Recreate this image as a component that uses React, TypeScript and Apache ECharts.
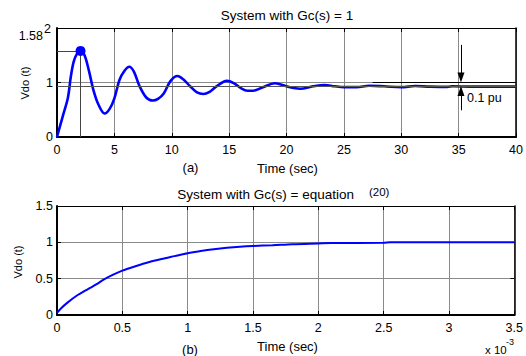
import React, { useEffect, useRef } from "react";
import * as echarts from "echarts";

// (a) System with Gc(s) = 1
const topTime = [0, 0.5, 0.95, 1.2, 1.45, 1.75, 2.05, 2.4, 2.8, 3.15, 3.6, 4.15, 4.6, 5.0, 5.45, 5.9, 6.3, 6.7, 7.2, 7.8, 8.35, 8.8, 9.3, 9.9, 10.5, 11.0, 11.6, 12.2, 12.75, 13.3, 13.9, 14.8, 15.4, 16.0, 16.6, 17.1, 17.9, 19.0, 20.0, 20.6, 21.2, 22.3, 23.3, 24.2, 25.0, 26.1, 27.2, 28.5, 30.0, 31.2, 32.5, 34.0, 34.5, 36.0, 40.0];
const topVdo = [0, 0.38, 0.72, 1.1, 1.38, 1.53, 1.58, 1.5, 1.2, 0.88, 0.6, 0.43, 0.52, 0.71, 1.05, 1.22, 1.29, 1.2, 0.93, 0.72, 0.67, 0.7, 0.8, 1.03, 1.12, 1.06, 0.93, 0.82, 0.79, 0.83, 0.93, 1.03, 0.99, 0.9, 0.85, 0.85, 0.91, 0.985, 0.93, 0.9, 0.885, 0.93, 0.955, 0.93, 0.915, 0.915, 0.94, 0.93, 0.915, 0.935, 0.925, 0.92, 0.93, 0.925, 0.925];
const topYTickMax = 2;
const peakPoint = [2.05, 1.58];
const peakLabel = "1.58";
const steadyValue = 0.935;
const referenceValue = 1;
const bandLineStart = 27.5;
const arrowTime = 35.2;
const downArrow = [1.69, 1.09];
const upArrow = [0.49, 0.845];
const bandLabelPoint = [35.2, 0.71];

// (b) System with Gc(s) = equation (20), time in x 10^-3 s
const bottomTime = [0, 0.03, 0.08, 0.15, 0.24, 0.3, 0.36, 0.43, 0.5, 0.6, 0.7, 0.8, 0.9, 1.0, 1.1, 1.2, 1.3, 1.4, 1.5, 1.65, 1.8, 2.0, 2.1, 2.5, 2.55, 3.0, 3.5];
const bottomVdo = [0.03, 0.09, 0.17, 0.265, 0.36, 0.42, 0.49, 0.555, 0.61, 0.67, 0.725, 0.77, 0.81, 0.85, 0.88, 0.905, 0.925, 0.94, 0.95, 0.96, 0.975, 0.985, 0.99, 0.995, 1.0, 1.0, 1.0];

const FONT = "'Liberation Sans', Arial, sans-serif";

export default function App() {
  const ref = useRef<HTMLDivElement>(null);
  useEffect(() => {
    if (!ref.current) return;
    const chart = echarts.init(ref.current, null, { renderer: "svg" });
    const grid = "#8a8a8a";
    const mkX = (gi: number, max: number, interval: number, pos: string, main: boolean) => ({
      type: "value",
      gridIndex: gi,
      min: 0,
      max,
      interval,
      position: pos,
      axisLine: { show: true, onZero: false, lineStyle: { color: "#000", width: main ? 2 : 1 } },
      axisTick: { show: true, inside: true, length: 4, lineStyle: { color: "#000", width: 1 } },
      axisLabel: main
        ? { show: true, color: "#000", fontSize: 12.5, fontFamily: FONT, margin: 6, showMaxLabel: true, showMinLabel: true, hideOverlap: false }
        : { show: false },
      splitLine: { show: main, lineStyle: { color: grid, width: 1 } },
    });
    const mkY = (gi: number, max: number, interval: number, pos: string, main: boolean, fmt?: (v: number) => string) => ({
      type: "value",
      gridIndex: gi,
      min: 0,
      max,
      interval,
      position: pos,
      axisLine: { show: true, onZero: false, lineStyle: { color: "#000", width: main ? 2 : 1.5 } },
      axisTick: { show: true, inside: true, length: 4, lineStyle: { color: "#000", width: 1 } },
      axisLabel: main
        ? { show: true, color: "#000", fontSize: 12.5, fontFamily: FONT, margin: 4, showMaxLabel: true, showMinLabel: true, hideOverlap: false, ...(fmt ? { formatter: fmt } : {}) }
        : { show: false },
      splitLine: { show: main, lineStyle: { color: grid, width: 1 } },
    });
    const txt = (x: number, y: number, text: string, size: number, extra: any = {}) => ({
      type: "text",
      x,
      y,
      silent: true,
      style: {
        text,
        fill: "#000",
        fontSize: size,
        fontFamily: FONT,
        textAlign: "center",
        textVerticalAlign: "middle",
        ...extra,
      },
    });
    const graphics: any[] = [
      txt(287, 15, "System with Gc(s) = 1", 13.5),
      txt(43, 35.5, peakLabel, 12.5, { textAlign: "right" }),
      txt(287.5, 168, "Time (sec)", 13),
      txt(190.5, 167, "(a)", 13),
      { ...txt(25, 83, "Vdo (t)", 11), rotation: Math.PI / 2 },
      txt(354, 194, "System with Gc(s) = equation", 13.5, { textAlign: "right" }),
      txt(369, 192, "(20)", 11.5, { textAlign: "left" }),
      txt(287.5, 346, "Time (sec)", 13),
      txt(190, 349, "(b)", 13),
      { ...txt(18, 262, "Vdo (t)", 11), rotation: Math.PI / 2 },
      txt(485, 350, "x 10", 11.5, { textAlign: "left" }),
      txt(506, 342, "-3", 9, { textAlign: "left" }),
    ];
    chart.setOption({
      animation: false,
      backgroundColor: "#fff",
      grid: [
        { left: 57, top: 28, width: 463, height: 109 },
        { left: 57, top: 206, width: 463, height: 109 },
      ],
      xAxis: [
        mkX(0, 40, 5, "bottom", true),
        mkX(0, 40, 5, "top", false),
        mkX(1, 3.5, 0.5, "bottom", true),
        mkX(1, 3.5, 0.5, "top", false),
      ],
      yAxis: [
        mkY(0, topYTickMax, 1, "left", true, (v: number) => (v === topYTickMax ? "" : String(v))),
        mkY(0, topYTickMax, 1, "right", false),
        mkY(1, 1.5, 0.5, "left", true),
        mkY(1, 1.5, 0.5, "right", false),
      ],
      series: [
        {
          type: "line",
          xAxisIndex: 0,
          yAxisIndex: 0,
          data: [],
          z: 2,
          markLine: {
            silent: true,
            animation: false,
            symbol: ["none", "none"],
            label: { show: false },
            lineStyle: { type: "solid", color: "#555", width: 1 },
            data: [
              [{ coord: [0, steadyValue], lineStyle: { color: "#555", width: 1, type: "solid" } }, { coord: [40, steadyValue] }],
              [{ coord: [bandLineStart, referenceValue], lineStyle: { color: "#000", width: 1.2, type: "solid" } }, { coord: [40, referenceValue] }],
              [{ coord: [0, peakPoint[1]], lineStyle: { color: "#444", width: 1, type: "solid" } }, { coord: [peakPoint[0], peakPoint[1]] }],
              [{ coord: [peakPoint[0], 0], lineStyle: { color: "#444", width: 1, type: "solid" } }, { coord: [peakPoint[0], peakPoint[1]] }],
              [
                { coord: [arrowTime, downArrow[0]], symbol: "none", lineStyle: { color: "#000", width: 1, type: "solid" } },
                { coord: [arrowTime, downArrow[1]], symbol: "triangle", symbolSize: [7, 10], itemStyle: { color: "#000" } },
              ],
              [
                { coord: [arrowTime, upArrow[0]], symbol: "none", lineStyle: { color: "#000", width: 1, type: "solid" } },
                { coord: [arrowTime, upArrow[1]], symbol: "triangle", symbolSize: [7, 10], itemStyle: { color: "#000" } },
              ],
            ],
          },
          markPoint: {
            silent: true,
            animation: false,
            symbol: "circle",
            symbolSize: 2,
            itemStyle: { color: "rgba(0,0,0,0)" },
            data: [
              {
                coord: bandLabelPoint,
                label: { show: true, position: "right", distance: 5, formatter: "0.1 pu", color: "#000", fontSize: 12.5, fontFamily: FONT },
              },
            ],
          },
        },
        {
          type: "line",
          xAxisIndex: 0,
          yAxisIndex: 0,
          data: topTime.map((t, i) => [t, topVdo[i]]),
          showSymbol: false,
          smooth: 0.35,
          z: 3,
          lineStyle: { color: "#0000ff", width: 2.6 },
          itemStyle: { color: "#0000ff" },
          markPoint: {
            silent: true,
            animation: false,
            symbol: "circle",
            symbolSize: 10,
            itemStyle: { color: "#0000ff" },
            label: { show: false },
            data: [{ coord: peakPoint }],
          },
        },
        {
          type: "line",
          xAxisIndex: 2,
          yAxisIndex: 2,
          data: bottomTime.map((t, i) => [t, bottomVdo[i]]),
          showSymbol: false,
          smooth: 0.3,
          z: 3,
          lineStyle: { color: "#0000ff", width: 2 },
          itemStyle: { color: "#0000ff" },
        },
      ],
      graphic: graphics,
    });
    // Top y-axis max tick label, drawn at the axis' own pixel position for that value.
    const p = chart.convertToPixel({ gridIndex: 0 }, [0, topYTickMax]) as number[];
    if (p && isFinite(p[0]) && isFinite(p[1])) {
      chart.setOption({
        graphic: [...graphics, txt(p[0] - 6, p[1] + 1, String(topYTickMax), 12.5, { textAlign: "right" })],
      });
    }
    return () => chart.dispose();
  }, []);
  return (
    <div
      ref={ref}
      style={{ position: "fixed", left: 0, top: 0, width: 526, height: 356, background: "#fff" }}
    />
  );
}
